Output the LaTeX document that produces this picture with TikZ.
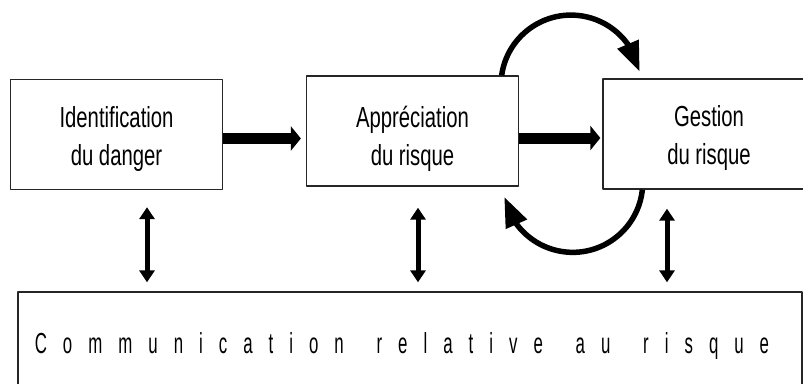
\documentclass[tikz,border=0pt]{standalone}
\usepackage{fontspec}
\setmainfont{Liberation Sans}
\usetikzlibrary{arrows.meta,bending,calc}
\newcommand{\boxtext}[1]{\scalebox{0.7}[1]{\fontsize{29}{38}\selectfont\begin{tabular}[t]{@{}c@{}}#1\end{tabular}}}
\makeatletter
\newlength{\lettertrack}\setlength{\lettertrack}{27.6pt}
\newlength{\wordtrack}\setlength{\wordtrack}{29pt}
\newcommand{\spreadtext}[1]{\scalebox{0.58}[1]{\fontsize{29}{34}\selectfont\spread@#1\relax}}
\def\spread@#1{\ifx\relax#1\else\ifx|#1\hspace{\wordtrack}\else#1\kern\lettertrack\fi\expandafter\spread@\fi}
\makeatother
\begin{document}
\begin{tikzpicture}[x=1pt, y=-1pt, line join=round,
	stage/.style={draw=black!85, line width=1.3pt, inner sep=0pt, minimum width=212pt, minimum height=110pt,
		text height=30pt, text depth=45pt},
	flow/.style={line width=11pt, -{Triangle[length=10pt,width=24pt]}},
	curlarrow/.style={line width=5.5pt, -{Triangle[length=30pt,width=22pt]}},
	updown/.style={line width=5pt, {Triangle[length=12pt,width=15pt]}-{Triangle[length=12pt,width=15pt]}}]
		\useasboundingbox (0,0) rectangle (803,383);
		\clip (0,0) rectangle (803,383);
		\node[stage] (idf) at (116.5,134.5) {\boxtext{Identification\\du danger}};
		\node[stage, text depth=38pt] (app) at (412.5,131) {\boxtext{Appréciation\\du risque}};
		\node[stage] (ges) at (709,134) {\boxtext{Gestion\\du risque}};
		\node[stage, minimum width=784pt, minimum height=94pt, text height=34pt, text depth=6pt] (comm) at (410,339)
		{\spreadtext{Communication|relative|au|risque}};
		\draw[flow, shorten >=5pt] ($(idf.east)+(0,4)$) -- ($(idf.east -| app.west)+(0,4)$);
		\draw[flow, shorten >=2pt] ($(app.east)+(0,7)$) -- ($(app.east -| ges.west)+(0,7)$);
		\draw[curlarrow] ($(app.north east)+(-17.5,0)$) arc[start angle=188, end angle=349, radius=70];
		\draw[curlarrow] ($(ges.south west)+(40,0)$) arc[start angle=6, end angle=168, radius=70];
		\foreach \n/\x/\s in {idf/147/17, app/418/21, ges/667/19}{
			\coordinate (k) at (\x,0);
			\draw[updown] ($(\n.south -| k)+(0,\s)$) -- ($(comm.north -| k)+(0,-9)$);
		}
\end{tikzpicture}
\end{document}
